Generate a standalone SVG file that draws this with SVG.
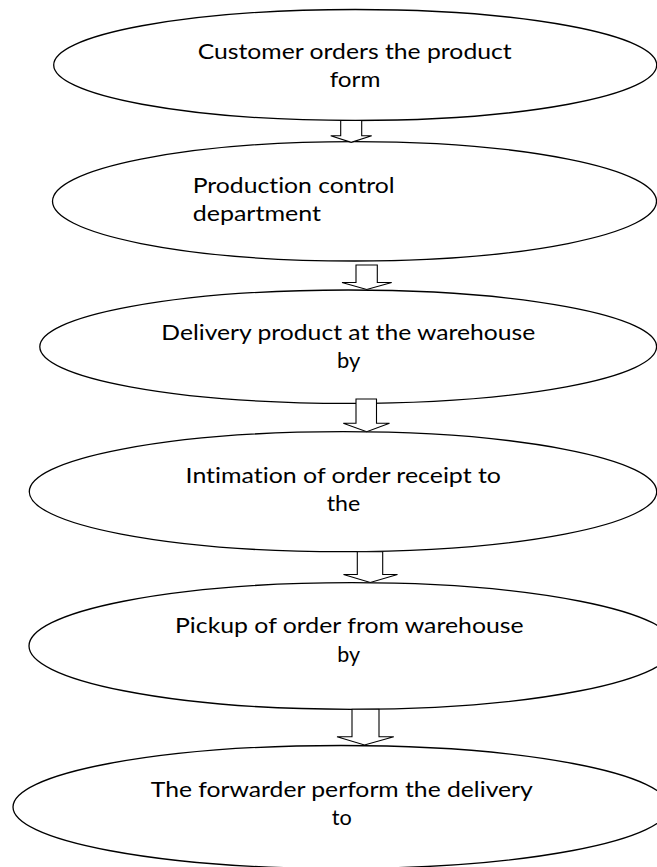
<svg xmlns="http://www.w3.org/2000/svg" width="657" height="867" viewBox="0 0 657 867">
<style>
.node ellipse{fill:#fff;stroke:#000;stroke-width:1.3}
.node text{font-family:Lato,"Liberation Sans",sans-serif;font-size:22px;fill:#000;font-variant-ligatures:none;font-feature-settings:"liga" 0,"dlig" 0}
.conn path{fill:#fff;stroke:#000;stroke-width:1.1;stroke-linejoin:miter}
</style>
<rect width="657" height="867" fill="#fff"/>
<g id="n1" class="node">
<ellipse cx="355.2" cy="65" rx="301.5" ry="55.5"/>
<text x="197.7" y="58.5" textLength="314" lengthAdjust="spacingAndGlyphs">Customer orders the product</text>
<text x="329.7" y="87.3" textLength="50.7" lengthAdjust="spacingAndGlyphs">form</text>
</g>
<g id="n2" class="node">
<ellipse cx="354.5" cy="201.3" rx="302" ry="59.7"/>
<text x="192.7" y="192.7" textLength="202" lengthAdjust="spacingAndGlyphs">Production control</text>
<text x="192.7" y="220.5" textLength="128.3" lengthAdjust="spacingAndGlyphs">department</text>
</g>
<g id="n3" class="node">
<ellipse cx="348.2" cy="346.7" rx="308.4" ry="56.7"/>
<text x="161.3" y="340" textLength="374" lengthAdjust="spacingAndGlyphs">Delivery product at the warehouse</text>
<text x="337" y="368.3" textLength="23.3" lengthAdjust="spacingAndGlyphs">by</text>
</g>
<g id="n4" class="node">
<ellipse cx="343" cy="491.7" rx="313.7" ry="60"/>
<text x="185.6" y="482.7" textLength="315.4" lengthAdjust="spacingAndGlyphs">Intimation of order receipt to</text>
<text x="326.8" y="510.7" textLength="33.5" lengthAdjust="spacingAndGlyphs">the</text>
</g>
<g id="n5" class="node">
<ellipse cx="352" cy="646" rx="323" ry="63.3"/>
<text x="175" y="633.3" textLength="348.7" lengthAdjust="spacingAndGlyphs">Pickup of order from warehouse</text>
<text x="337.2" y="661.7" textLength="22.8" lengthAdjust="spacingAndGlyphs">by</text>
</g>
<g id="n6" class="node">
<ellipse cx="341" cy="807" rx="328" ry="61.5"/>
<text x="150.8" y="796.7" textLength="382" lengthAdjust="spacingAndGlyphs">The forwarder perform the delivery</text>
<text x="331.8" y="825" textLength="20" lengthAdjust="spacingAndGlyphs">to</text>
</g>
<g id="connectors" class="conn">
<path d="M340.7,120.5 V135.7 H330.7 L351.2,142.3 L371.7,135.7 H361.7 V120.5 Z"/>
<path d="M356,265 V282.5 H342 L366.7,289.5 L391.7,282.5 H377.3 V265 Z"/>
<path d="M356,399 V423.3 H343.3 L366.7,431.7 L389.5,423.3 H376.5 V399 Z"/>
<path d="M357.3,551.7 V574.5 H343.5 L370.3,582.5 L397.5,574.5 H382.7 V551.7 Z"/>
<path d="M352,709.3 V736.7 H337 L364.5,745 L393.8,736.7 H379 V709.3 Z"/>
</g>
</svg>
